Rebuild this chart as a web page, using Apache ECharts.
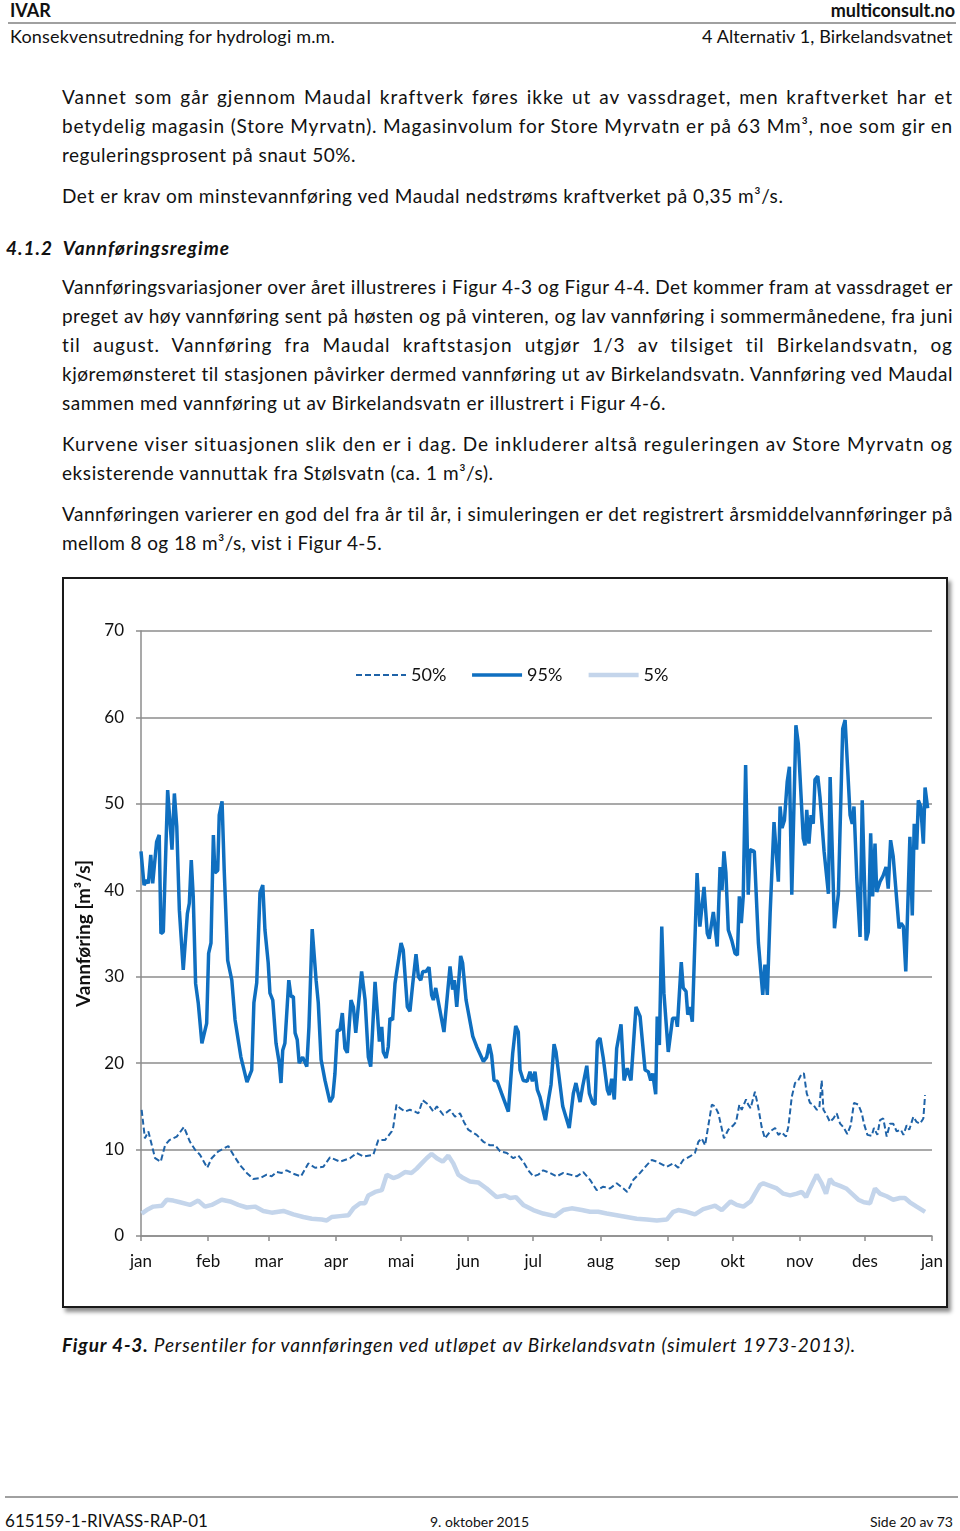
<!DOCTYPE html>
<html><head><meta charset="utf-8">
<script src="https://cdn.jsdelivr.net/npm/echarts@6/dist/echarts.min.js"></script>
<style>
html,body{margin:0;padding:0;background:#fff;}
body{width:960px;height:1531px;position:relative;overflow:hidden;font-family:Lato,"Liberation Sans",sans-serif;color:#111;}
.t{position:absolute;white-space:nowrap;line-height:24px;font-size:19px;}
.rule{position:absolute;height:2px;background:#a0a0a0;}
#frame{position:absolute;left:62px;top:577px;width:886px;height:731px;box-sizing:border-box;border:2px solid #1a1a1a;box-shadow:3px 4px 4px rgba(0,0,0,0.45);pointer-events:none;}
#chart{position:absolute;left:62px;top:577px;width:886px;height:731px;}
</style></head><body>
<div class="t" style="left:10px;top:-2px;font-weight:bold;font-size:18px;">IVAR</div>
<div class="t" style="right:5px;top:-2px;font-weight:bold;font-size:18px;">multiconsult.no</div>
<div class="rule" style="left:8px;width:948px;top:22px;"></div>
<div class="t fit" data-w="325" style="left:10px;top:24px;font-size:18px;">Konsekvensutredning for hydrologi m.m.</div>
<div class="t fit" data-w="251" style="left:702px;top:24px;font-size:18px;">4 Alternativ 1, Birkelandsvatnet</div>

<div class="t fit j" data-w="891" style="left:62px;top:85px;">Vannet som går gjennom Maudal kraftverk føres ikke ut av vassdraget, men kraftverket har et</div>
<div class="t fit j" data-w="891" style="left:62px;top:114px;">betydelig magasin (Store Myrvatn). Magasinvolum for Store Myrvatn er på 63 Mm³, noe som gir en</div>
<div class="t fit" data-w="294" style="left:62px;top:143px;">reguleringsprosent på snaut 50%.</div>
<div class="t fit" data-w="721" style="left:62px;top:184px;">Det er krav om minstevannføring ved Maudal nedstrøms kraftverket på 0,35 m³/s.</div>
<div class="t fit" data-w="228" style="left:6px;top:236px;font-weight:bold;font-style:italic;">4.1.2&nbsp;&nbsp;Vannføringsregime</div>
<div class="t fit j" data-w="891" style="left:62px;top:275px;">Vannføringsvariasjoner over året illustreres i Figur 4-3 og Figur 4-4. Det kommer fram at vassdraget er</div>
<div class="t fit j" data-w="891" style="left:62px;top:304px;">preget av høy vannføring sent på høsten og på vinteren, og lav vannføring i sommermånedene, fra juni</div>
<div class="t fit j" data-w="891" style="left:62px;top:333px;">til august. Vannføring fra Maudal kraftstasjon utgjør 1/3 av tilsiget til Birkelandsvatn, og</div>
<div class="t fit j" data-w="891" style="left:62px;top:362px;">kjøremønsteret til stasjonen påvirker dermed vannføring ut av Birkelandsvatn. Vannføring ved Maudal</div>
<div class="t fit" data-w="604" style="left:62px;top:391px;">sammen med vannføring ut av Birkelandsvatn er illustrert i Figur 4-6.</div>
<div class="t fit j" data-w="891" style="left:62px;top:432px;">Kurvene viser situasjonen slik den er i dag. De inkluderer altså reguleringen av Store Myrvatn og</div>
<div class="t fit" data-w="431" style="left:62px;top:461px;">eksisterende vannuttak fra Stølsvatn (ca. 1 m³/s).</div>
<div class="t fit j" data-w="891" style="left:62px;top:502px;">Vannføringen varierer en god del fra år til år, i simuleringen er det registrert årsmiddelvannføringer på</div>
<div class="t fit" data-w="320" style="left:62px;top:531px;">mellom 8 og 18 m³/s, vist i Figur 4-5.</div>

<div id="chart"></div>
<div id="frame"></div>

<div class="t fit" data-w="794" style="left:62px;top:1333px;font-style:italic;"><b>Figur 4-3.</b> Persentiler for vannføringen ved utløpet av Birkelandsvatn (simulert 1973-2013).</div>

<div class="rule" style="left:5px;width:953px;top:1496px;"></div>
<div class="t fit" data-w="203" style="left:5px;top:1509px;font-size:17px;">615159-1-RIVASS-RAP-01</div>
<div class="t" style="left:430px;top:1510px;font-size:14px;">9. oktober 2015</div>
<div class="t" style="right:7px;top:1510px;font-size:14px;">Side 20 av 73</div>

<script>
// month axis
const monthStarts = [0,31,59,90,120,151,181,212,243,273,304,334,365];
const monthLabels = ['jan','feb','mar','apr','mai','jun','jul','aug','sep','okt','nov','des','jan'];
const seriesNames = ['50%','95%','5%'];

// [day of year, m3/s]
const q50 = [[0.3,14.6],[1.8,11.3],[3.4,12.1],[6.5,9.0],[9.1,8.6],[11.1,10.5],[13.1,11.1],[16.5,11.5],[19.8,12.6],[22.6,10.9],[24.9,10.0],[27.2,9.4],[30.6,7.9],[32.6,9.0],[35.7,9.8],[38.0,10.1],[40.3,10.4],[42.6,9.4],[45.7,8.2],[48.8,7.3],[51.8,6.6],[54.9,6.7],[58.0,7.1],[60.3,6.9],[62.6,7.4],[64.9,7.3],[67.2,7.6],[70.3,7.2],[73.8,6.9],[77.2,8.4],[80.3,7.9],[84.1,8.0],[87.2,9.1],[91.8,8.6],[96.4,9.0],[99.5,9.6],[102.6,9.2],[107.2,9.4],[109.5,11.1],[112.6,11.1],[115.7,12.1],[116.4,12.6],[117.9,15.2],[119.5,14.8],[121.8,14.4],[124.1,14.6],[126.4,14.4],[128.0,14.2],[130.0,15.7],[132.6,15.2],[134.9,14.4],[136.5,15.0],[139.5,14.0],[142.6,14.6],[144.9,13.8],[147.2,14.2],[149.0,13.2],[151.0,12.3],[154.9,11.7],[158.0,10.9],[161.0,10.5],[163.4,10.5],[165.7,9.8],[168.8,9.6],[171.8,9.0],[174.1,9.3],[176.4,8.6],[178.7,7.6],[181.0,6.9],[183.3,7.1],[185.6,7.6],[188.7,7.3],[191.8,6.9],[194.9,7.3],[198.0,7.1],[201.1,6.9],[204.1,7.4],[207.2,6.5],[210.3,5.3],[213.3,5.7],[216.4,5.5],[219.5,6.1],[222.6,5.5],[224.4,5.1],[227.2,6.5],[230.3,7.3],[233.4,8.2],[235.7,8.8],[238.0,8.6],[242.6,8.0],[245.6,8.4],[247.9,7.9],[250.2,8.8],[253.3,9.2],[255.6,9.6],[257.2,10.9],[258.7,11.3],[260.3,10.5],[261.8,12.8],[263.4,15.2],[264.9,15.0],[266.4,14.2],[269.0,11.3],[271.0,12.3],[273.3,12.8],[274.6,13.2],[276.1,15.2],[277.2,14.6],[279.2,15.8],[280.2,15.2],[281.3,14.8],[283.3,16.7],[284.9,14.8],[286.4,12.6],[287.9,11.3],[290.3,12.1],[292.6,12.5],[294.1,11.7],[295.6,12.0],[297.6,11.5],[298.7,12.6],[300.3,16.1],[301.8,17.7],[303.3,18.0],[304.9,18.8],[305.9,18.8],[307.2,16.5],[308.7,15.4],[310.2,15.2],[311.8,14.6],[313.0,14.8],[314.1,18.0],[314.9,14.6],[316.4,14.0],[317.9,13.2],[319.5,13.6],[321.0,14.2],[322.6,13.0],[324.1,12.6],[325.9,11.8],[327.5,12.8],[329.0,15.4],[331.0,15.2],[332.6,14.2],[333.6,13.0],[335.2,11.7],[337.2,11.6],[338.2,12.5],[339.8,11.7],[341.0,13.4],[342.5,13.6],[344.1,11.5],[345.6,13.0],[347.1,13.0],[348.7,12.1],[350.6,12.3],[351.8,11.7],[353.3,12.8],[354.5,12.3],[356.4,13.8],[357.9,13.2],[359.5,13.0],[361.0,13.6],[361.8,16.3]];

const q95 = [[0,44.5],[1.4,40.6],[2.6,41.2],[3.4,40.8],[4.5,44.1],[5.4,40.8],[7.2,45.6],[8.4,46.4],[9.2,35.0],[10.3,35.2],[12.3,51.6],[14.3,44.7],[15.4,51.2],[16.5,47.4],[17.7,37.7],[19.5,30.8],[21.4,37.3],[22.3,38.5],[23.2,43.5],[24.1,39.3],[25.2,29.2],[26.4,27.0],[28.1,22.3],[30.3,24.6],[31.2,32.7],[32.3,33.9],[33.4,46.4],[34.1,42.0],[35.4,42.3],[36.1,48.7],[37.4,50.3],[38.4,42.3],[40.0,31.9],[41.9,29.6],[43.4,25.0],[46.1,20.7],[48.9,17.8],[51.1,19.2],[52.1,27.0],[53.4,29.3],[54.9,39.7],[56.2,40.6],[57.2,35.4],[58.7,31.6],[59.5,28.1],[60.8,27.3],[62.3,22.3],[63.8,20.0],[64.6,17.7],[65.4,21.5],[66.4,22.3],[68.2,29.6],[69.2,27.7],[70.3,27.7],[71.1,23.5],[72.1,22.7],[73.0,20.0],[74.6,20.7],[76.5,19.6],[77.5,24.2],[79.0,35.5],[80.8,29.6],[81.8,27.0],[83.1,20.4],[84.9,18.0],[87.2,15.5],[88.5,16.1],[89.5,18.8],[90.6,23.8],[91.8,23.8],[92.9,25.8],[94.1,21.7],[95.2,21.2],[96.9,27.3],[98.0,26.5],[99.1,23.5],[101.8,30.6],[103.4,27.3],[104.9,20.7],[106.0,19.6],[108.0,29.4],[109.0,26.1],[110.0,22.5],[111.1,24.2],[111.8,21.3],[113.1,20.6],[114.1,21.9],[114.9,25.2],[116.1,25.0],[117.2,29.2],[120.0,33.9],[121.0,33.1],[122.9,26.5],[124.1,26.0],[125.4,29.2],[126.9,32.6],[128.0,30.0],[129.1,29.6],[130.0,30.6],[131.5,30.6],[132.9,31.1],[134.1,27.9],[134.9,27.3],[136.0,28.7],[137.2,27.1],[139.8,23.6],[142.6,31.2],[143.8,28.5],[144.6,29.6],[145.7,26.5],[147.5,32.4],[148.4,31.6],[150.0,27.3],[153.1,23.1],[154.9,21.9],[158.0,20.2],[159.5,20.7],[160.7,22.2],[161.8,20.9],[162.9,18.0],[164.4,17.9],[166.4,16.5],[169.5,14.4],[170.3,14.6],[171.5,21.1],[172.9,24.3],[174.1,23.6],[174.9,19.2],[176.4,18.0],[178.2,17.9],[179.5,19.0],[180.6,17.9],[181.8,19.0],[182.9,16.9],[184.1,16.1],[186.6,13.4],[188.0,15.7],[189.2,17.5],[190.6,22.2],[191.5,21.3],[194.6,15.0],[197.6,12.5],[199.5,16.5],[200.7,17.7],[202.6,15.5],[203.8,17.3],[204.6,17.5],[205.7,19.7],[206.9,16.5],[208.4,15.4],[209.5,15.2],[210.6,22.5],[211.8,22.9],[213.3,20.6],[215.2,16.9],[216.1,16.3],[217.2,18.2],[218.4,15.8],[219.5,21.7],[221.5,24.5],[222.9,18.0],[224.4,19.4],[226.1,18.0],[228.4,26.5],[230.3,25.4],[232.6,19.2],[234.1,19.0],[235.2,18.0],[236.1,18.8],[237.5,16.4],[238.2,25.4],[239.2,22.1],[240.3,35.8],[241.3,28.1],[243.3,21.3],[245.3,25.2],[246.9,25.2],[247.5,24.2],[249.3,31.7],[250.2,28.7],[251.5,28.3],[252.3,25.6],[253.3,26.5],[254.4,24.8],[256.6,42.0],[257.9,35.8],[259.8,40.4],[261.3,35.0],[262.2,34.4],[264.1,37.5],[265.9,33.5],[267.2,42.7],[268.1,40.0],[269.0,44.5],[269.9,42.0],[271.0,35.4],[272.6,34.2],[274.1,32.7],[275.2,32.5],[276.1,39.3],[277.0,36.2],[277.9,39.3],[279.0,54.5],[280.2,39.5],[281.0,44.7],[283.0,44.5],[284.9,33.9],[286.9,27.9],[287.9,31.4],[289.0,27.9],[290.3,37.3],[292.1,47.9],[294.1,41.0],[294.9,49.7],[295.8,47.2],[296.9,48.1],[298.2,52.6],[299.2,54.3],[300.3,39.5],[302.2,59.1],[303.3,57.0],[305.6,46.0],[306.4,45.2],[307.2,49.3],[308.2,45.4],[309.2,48.7],[310.2,47.7],[311.0,52.8],[312.3,53.2],[313.3,50.8],[314.1,51.0],[315.2,44.5],[317.2,39.6],[318.0,53.1],[320.0,35.6],[321.8,39.6],[323.8,58.7],[324.9,59.7],[327.2,48.7],[328.2,47.7],[329.0,49.7],[330.3,41.4],[331.8,34.6],[332.8,50.4],[334.6,34.2],[335.6,35.2],[336.7,46.6],[337.6,39.3],[338.7,45.4],[339.5,39.8],[341.0,41.0],[342.3,41.6],[343.8,42.7],[344.8,40.2],[345.9,45.8],[347.1,43.9],[349.8,35.6],[350.7,36.2],[351.8,35.8],[352.9,30.6],[354.8,46.2],[355.9,37.1],[356.8,47.7],[357.9,44.7],[358.7,50.4],[359.8,49.7],[361.0,45.4],[361.8,51.9],[363.0,49.5]];

const q5 = [[0.3,2.6],[2.6,3.0],[5.7,3.4],[9.6,3.5],[11.9,4.2],[14.9,4.1],[18.0,3.9],[22.6,3.6],[26.4,4.1],[29.5,3.4],[32.6,3.6],[37.2,4.2],[41.1,4.0],[44.9,3.6],[48.8,3.3],[52.6,3.4],[56.4,2.9],[60.3,2.7],[65.7,2.9],[70.3,2.5],[74.9,2.2],[78.8,2.0],[83.4,1.9],[85.7,1.8],[88.0,2.2],[91.8,2.3],[95.7,2.4],[98.0,3.2],[101.1,3.8],[103.4,3.8],[104.9,4.7],[108.0,5.1],[111.1,5.3],[113.4,7.1],[116.4,6.7],[118.7,6.9],[121.8,7.4],[124.9,7.3],[127.2,7.8],[129.5,8.4],[131.8,9.0],[134.1,9.5],[136.5,9.0],[139.2,8.6],[141.8,9.3],[144.1,8.4],[146.4,7.1],[148.7,6.7],[151.8,6.3],[155.6,6.2],[159.5,5.5],[164.1,4.5],[168.0,4.7],[170.3,4.4],[173.0,4.5],[176.4,3.6],[181.0,3.0],[185.6,2.6],[191.0,2.3],[194.9,3.0],[198.7,3.2],[203.4,3.0],[207.2,2.8],[211.0,2.8],[214.9,2.6],[219.5,2.4],[224.1,2.2],[228.7,2.0],[233.4,1.9],[238.0,1.8],[242.6,1.9],[245.6,2.8],[247.9,3.0],[251.8,2.8],[255.6,2.5],[259.4,3.1],[263.4,3.4],[264.9,3.5],[268.0,3.0],[272.1,4.0],[274.9,3.6],[278.0,3.4],[281.3,4.0],[283.3,4.9],[285.6,5.9],[287.2,6.1],[290.3,5.8],[293.4,5.5],[296.4,4.9],[299.5,4.7],[302.6,4.9],[304.9,5.1],[306.9,4.5],[308.7,5.5],[311.8,7.1],[314.1,6.1],[316.1,4.9],[317.9,6.6],[319.5,6.1],[322.6,5.8],[325.4,5.5],[328.0,4.9],[331.0,4.2],[333.6,3.9],[336.4,3.8],[338.7,5.5],[341.0,4.9],[344.1,4.6],[347.1,4.2],[350.2,4.4],[352.5,4.4],[354.8,3.9],[357.9,3.4],[361.8,2.8]];

// fit each text line to its measured width in the reference (letter spacing, then justify)
document.querySelectorAll('.fit').forEach(el => {
  const target = parseFloat(el.dataset.w);
  const w = el.getBoundingClientRect().width;
  const n = el.textContent.length;
  let ls = (target - w) / n;
  ls = Math.max(-1.5, Math.min(1.0, ls));
  el.style.letterSpacing = ls.toFixed(3) + 'px';
  if (el.classList.contains('j')) {
    el.style.width = target + 'px';
    el.style.textAlign = 'justify';
    el.style.textAlignLast = 'justify';
  }
});

const chart = echarts.init(document.getElementById('chart'), null, {renderer: 'canvas'});
const gridColor = '#8d8d8d';
const txt = {color: '#111', fontSize: 17, fontFamily: 'Lato, "Liberation Sans", sans-serif'};
chart.setOption({
  animation: false,
  backgroundColor: '#fff',
  grid: {left: 79, right: 16, top: 54, bottom: 72, containLabel: false},
  legend: {
    data: seriesNames, left: 288, top: 84, itemWidth: 50, itemHeight: 14, itemGap: 24,
    itemStyle: {color: 'rgba(0,0,0,0)', borderWidth: 0, opacity: 0},
    lineStyle: {width: 'inherit'},
    textStyle: Object.assign({}, txt, {fontSize: 18})
  },
  xAxis: {
    type: 'value', min: 0, max: 365,
    axisLine: {lineStyle: {color: gridColor, width: 1.5}},
    axisTick: {show: true, customValues: monthStarts, length: 5, lineStyle: {color: gridColor, width: 1.5}},
    axisLabel: Object.assign({}, txt, {customValues: monthStarts, margin: 17,
      formatter: v => monthLabels[monthStarts.indexOf(v)] || ''}),
    splitLine: {show: false}
  },
  yAxis: {
    type: 'value', min: 0, max: 70, interval: 10,
    name: 'Vannføring [m³/s]', nameLocation: 'middle', nameGap: 46,
    nameTextStyle: Object.assign({}, txt, {fontSize: 19, fontWeight: 'bold'}),
    axisLine: {show: true, lineStyle: {color: gridColor, width: 1.5}},
    axisTick: {show: true, length: 5, lineStyle: {color: gridColor, width: 1.5}},
    axisLabel: Object.assign({}, txt, {margin: 17}),
    splitLine: {show: true, lineStyle: {color: gridColor, width: 1.5}}
  },
  series: [
    {name: '5%', type: 'line', data: q5, symbol: 'none', z: 1,
     lineStyle: {color: '#c4d5eb', width: 4.5}, itemStyle: {color: '#c4d5eb'}},
    {name: '50%', type: 'line', data: q50, symbol: 'none', z: 2,
     lineStyle: {color: '#1f63a8', width: 2, type: [6, 3]}, itemStyle: {color: '#1f63a8'}},
    {name: '95%', type: 'line', data: q95, symbol: 'none', z: 3,
     lineStyle: {color: '#0f6fc0', width: 3.5}, itemStyle: {color: '#0f6fc0'}}
  ]
});
</script>
</body></html>
